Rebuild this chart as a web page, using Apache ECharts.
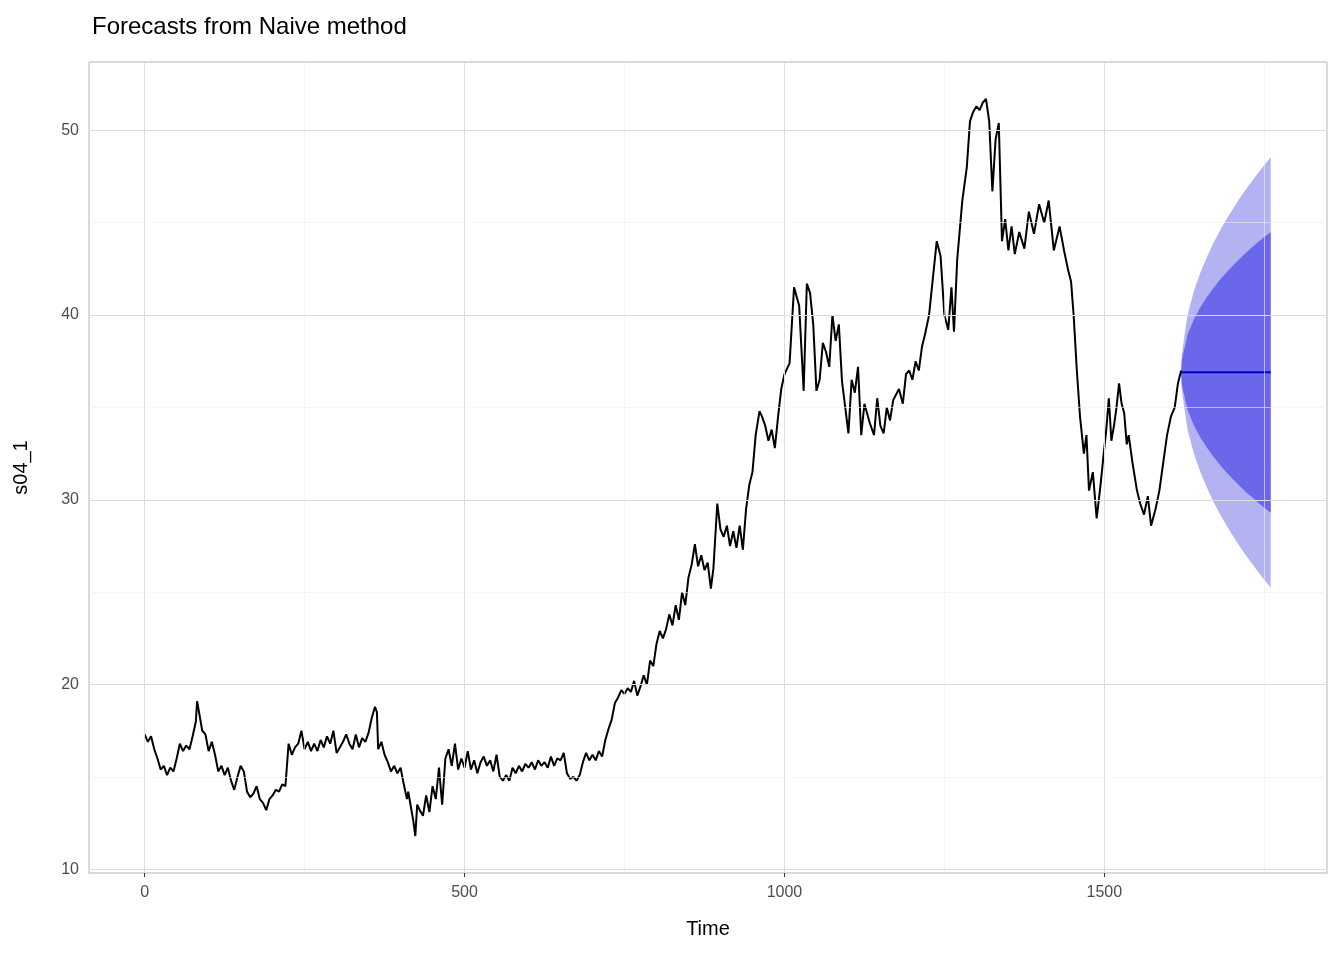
<!DOCTYPE html>
<html lang="en">
<head>
    <meta charset="UTF-8">
    <title>Forecasts from Naive method</title>
</head>
<body style="margin:0">
<div id="main" style="height: 960px;width: 1344px"></div>
</body>
<script src="https://cdn.jsdelivr.net/npm/echarts@6.0.0/dist/echarts.min.js"></script>
<script>
    var timeX = [0,5,10,15,20,25,30,35,40,45,50,55,60,65,70,75,80,82,85,90,95,100,105,110,115,120,125,130,135,140,145,150,155,160,165,170,175,180,185,190,195,200,205,210,215,220,225,230,235,240,245,250,255,260,265,270,275,280,285,290,295,300,305,310,315,320,325,330,335,340,345,350,355,360,363,365,370,375,380,385,390,395,400,405,410,412,418,420,423,426,430,435,440,445,450,455,460,465,470,475,480,485,490,495,500,505,510,515,520,525,530,535,540,545,550,555,560,565,570,575,580,585,590,595,600,605,610,615,620,625,630,635,640,645,650,655,660,665,670,675,680,685,690,695,700,705,710,715,720,725,730,735,740,745,750,755,760,765,770,775,780,785,790,795,800,805,810,815,820,825,830,835,840,845,850,855,860,865,870,875,880,885,889,895,900,905,910,915,920,925,930,935,940,945,950,955,961,965,970,975,980,985,990,995,1000,1008,1015,1023,1030,1035,1040,1045,1050,1055,1060,1065,1070,1075,1080,1085,1090,1095,1100,1105,1110,1115,1120,1125,1133,1140,1145,1150,1155,1160,1165,1170,1179,1185,1190,1195,1200,1205,1210,1215,1220,1226,1232,1238,1244,1250,1256,1261,1265,1270,1278,1285,1290,1295,1300,1305,1310,1315,1320,1325,1330,1335,1340,1345,1350,1355,1360,1367,1375,1382,1390,1398,1406,1413,1421,1430,1437,1443,1448,1452,1457,1462,1468,1472,1476,1482,1488,1494,1499,1503,1507,1511,1515,1519,1523,1527,1531,1535,1538,1544,1551,1556,1562,1568,1573,1580,1586,1592,1598,1604,1610,1615,1620];
    var valueY = [17.3,16.9,17.2,16.5,16.0,15.4,15.6,15.1,15.5,15.3,16.0,16.8,16.4,16.7,16.5,17.2,18.0,19.1,18.5,17.5,17.3,16.4,16.9,16.2,15.3,15.6,15.1,15.5,14.8,14.3,15.0,15.6,15.3,14.2,13.9,14.1,14.5,13.8,13.6,13.2,13.8,14.0,14.3,14.2,14.6,14.5,16.8,16.2,16.6,16.8,17.5,16.5,16.9,16.4,16.8,16.4,17.0,16.6,17.2,16.8,17.5,16.3,16.6,16.9,17.3,16.8,16.5,17.3,16.6,17.1,16.9,17.4,18.2,18.8,18.5,16.5,16.9,16.2,15.8,15.3,15.6,15.2,15.5,14.6,13.8,14.2,13.0,12.6,11.8,13.5,13.2,12.9,14.0,13.1,14.5,13.8,15.5,13.5,16.0,16.5,15.6,16.8,15.4,16.0,15.5,16.4,15.4,15.9,15.2,15.8,16.1,15.6,15.9,15.3,16.2,15.0,14.8,15.1,14.8,15.5,15.2,15.6,15.3,15.7,15.5,15.8,15.4,15.9,15.6,15.8,15.5,16.1,15.6,16.0,15.9,16.3,15.2,14.9,15.0,14.8,15.1,15.8,16.3,15.9,16.2,15.9,16.4,16.1,17.0,17.6,18.1,19.0,19.3,19.7,19.5,19.8,19.6,20.2,19.4,19.9,20.5,20.0,21.3,21.0,22.2,22.9,22.5,23.0,23.8,23.2,24.3,23.5,25.0,24.3,25.8,26.5,27.6,26.4,27.0,26.2,26.6,25.2,26.3,29.8,28.4,28.0,28.6,27.5,28.3,27.4,28.6,27.3,29.5,30.8,31.5,33.5,34.8,34.5,34.0,33.2,33.8,32.8,34.5,36.0,36.8,37.4,41.5,40.5,35.9,41.7,41.2,39.5,35.9,36.5,38.5,38.0,37.2,40.0,38.6,39.5,36.4,35.0,33.6,36.5,35.8,37.2,33.5,35.2,34.2,33.5,35.5,34.0,33.6,35.0,34.3,35.4,36.0,35.2,36.8,37.0,36.5,37.5,37.0,38.3,39.0,40.0,42.0,44.0,43.2,40.0,39.2,41.5,39.1,43.0,46.2,48.0,50.5,51.0,51.3,51.1,51.5,51.7,50.5,46.7,49.5,50.4,44.0,45.2,43.5,44.8,43.3,44.5,43.6,45.6,44.4,46.0,45.0,46.2,43.5,44.8,43.5,42.5,41.8,40.0,37.0,34.5,32.5,33.5,30.5,31.5,29.0,30.8,32.5,33.8,35.5,33.2,34.0,35.0,36.3,35.2,34.7,33.0,33.5,32.0,30.5,29.8,29.2,30.2,28.6,29.5,30.5,32.0,33.5,34.5,35.0,36.3,37.0,37.5,37.2,37.8,37.3,37.6,37.9,37.2,37.4,36.9];

    // forecast horizon and interval bounds
    var fcX = [1620,1621,1630,1640,1650,1660,1670,1680,1690,1700,1710,1720,1730,1740,1750,1760];
    var fcMean = 36.9;
    var lo95 = [36.9,35.92,33.79,32.50,31.51,30.68,29.94,29.28,28.67,28.10,27.56,27.06,26.58,26.12,25.68,25.26];
    var lo80 = [36.9,36.26,34.87,34.03,33.38,32.84,32.36,31.92,31.52,31.15,30.80,30.47,30.16,29.86,29.57,29.30];
    var hi80 = [36.9,37.54,38.93,39.77,40.42,40.96,41.44,41.88,42.28,42.65,43.00,43.33,43.64,43.94,44.23,44.50];
    var hi95 = [36.9,37.88,40.01,41.30,42.29,43.12,43.86,44.52,45.13,45.70,46.24,46.74,47.22,47.68,48.12,48.54];

    var xTicks = [0, 500, 1000, 1500];
    var xMinor = [250, 750, 1250, 1750];
    var yTicks = [10, 20, 30, 40, 50];
    var yMinor = [15, 25, 35, 45];

    var myChart = echarts.init(document.getElementById('main'));

    function pairs(xs, ys) {
        return xs.map(function (x, i) { return [x, ys[i]]; });
    }

    var gridLines = [];
    xTicks.forEach(function (v) { gridLines.push({xAxis: v, lineStyle: {color: '#dcdcdc', width: 1, type: 'solid'}}); });
    xMinor.forEach(function (v) { gridLines.push({xAxis: v, lineStyle: {color: '#eeeeee', width: 0.6, type: 'solid'}}); });
    yTicks.forEach(function (v) { gridLines.push({yAxis: v, lineStyle: {color: '#dcdcdc', width: 1, type: 'solid'}}); });
    yMinor.forEach(function (v) { gridLines.push({yAxis: v, lineStyle: {color: '#eeeeee', width: 0.6, type: 'solid'}}); });

    // band polygon between two bound arrays, mapped through the axes
    function bandSeries(lower, upper, color) {
        return {
            type: 'custom', silent: true, z: 1,
            data: [0],
            renderItem: function (params, api) {
                var pts = [];
                fcX.forEach(function (x, i) { pts.push(api.coord([x, upper[i]])); });
                for (var i = fcX.length - 1; i >= 0; i--) pts.push(api.coord([fcX[i], lower[i]]));
                return {type: 'polygon', shape: {points: pts}, style: {fill: color}};
            }
        };
    }

    var labelStyle = {color: '#4d4d4d', fontSize: 16, fontFamily: 'Liberation Sans'};

    var option = {
        animation: false,
        title: {
            text: 'Forecasts from Naive method', left: 87, top: 10,
            textStyle: {color: '#000', fontSize: 24, fontWeight: 'normal', fontFamily: 'Liberation Sans'}
        },
        grid: {left: 89, right: 17, top: 62, bottom: 87, show: true, borderColor: '#b3b3b3', borderWidth: 1},
        xAxis: {
            type: 'value', min: -87, max: 1848,
            name: 'Time', nameLocation: 'middle', nameGap: 46,
            nameTextStyle: {color: '#000', fontSize: 20, fontFamily: 'Liberation Sans'},
            axisLine: {show: false},
            axisTick: {show: true, customValues: xTicks, length: 4, lineStyle: {color: '#333'}},
            axisLabel: Object.assign({customValues: xTicks, margin: 12, formatter: function (v) { return String(v); }}, labelStyle),
            splitLine: {show: false}
        },
        yAxis: {
            type: 'value', min: 9.8, max: 53.7,
            name: 's04_1', nameLocation: 'middle', nameGap: 58, nameRotate: 90,
            nameTextStyle: {color: '#000', fontSize: 20, fontFamily: 'Liberation Sans'},
            axisLine: {show: false},
            axisTick: {show: true, customValues: yTicks, length: 4, lineStyle: {color: '#333'}},
            axisLabel: Object.assign({customValues: yTicks, margin: 10}, labelStyle),
            splitLine: {show: false}
        },
        series: [
            {
                type: 'line', data: [], silent: true,
                markLine: {silent: true, symbol: 'none', label: {show: false}, data: gridLines}, z: 0
            },
            bandSeries(lo95, hi95, '#b4b3f2'),
            bandSeries(lo80, hi80, '#6b67ea'),
            {
                type: 'line', symbol: 'none', silent: true, z: 3,
                data: pairs(timeX, valueY),
                lineStyle: {color: '#000', width: 2}
            },
            {
                type: 'line', symbol: 'none', silent: true, z: 4,
                data: [[fcX[0], fcMean], [fcX[fcX.length - 1], fcMean]],
                lineStyle: {color: '#0000cc', width: 2}
            }
        ]
    };

    myChart.setOption(option);
</script>
</html>
